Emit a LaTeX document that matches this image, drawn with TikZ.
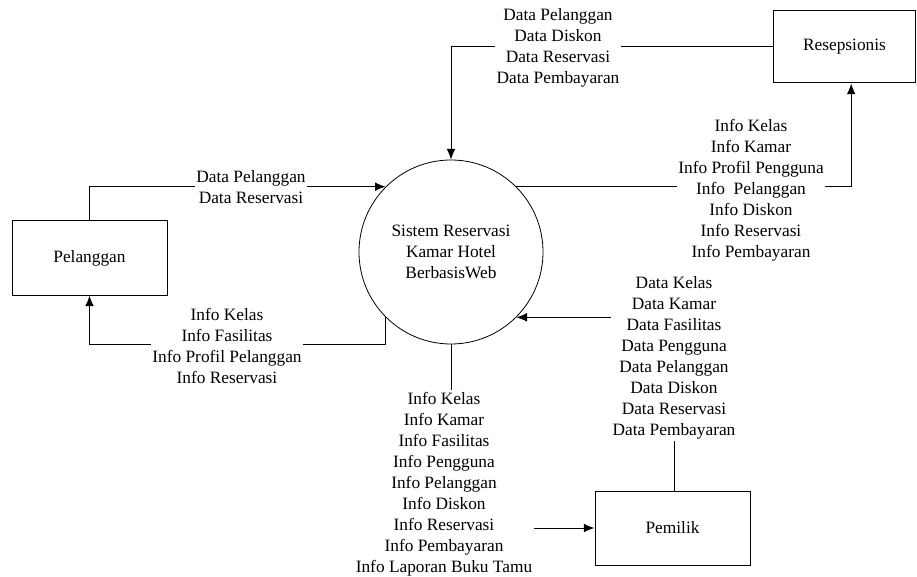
\documentclass[tikz,border=0pt]{standalone}
\usepackage{fontspec}
\setmainfont{Liberation Serif}
\usetikzlibrary{arrows.meta}
\pgfdeclarelayer{bg}
\pgfsetlayers{bg,main}
\begin{document}
\begin{tikzpicture}[x=0.75pt,y=-0.75pt,
  every node/.style={font=\fontsize{13}{15.75}\selectfont},
  entity/.style={draw, line width=0.75pt, minimum width=116.25pt, minimum height=55.5pt, inner sep=0pt},
  process/.style={draw, circle, line width=0.6pt, minimum size=138pt, inner sep=0pt, align=center},
  flowlabel/.style={fill=white, inner sep=1pt, align=center},
  link/.style={line width=0.75pt},
  flow/.style={link, -{Latex[length=8pt,width=6.5pt]}}
]
\useasboundingbox (0,0) rectangle (917,577);

% process and external entities
\node[process] (sys) at (451,252) {Sistem Reservasi\\Kamar Hotel\\BerbasisWeb};
\node[entity] (pel) at (89.5,258) {Pelanggan};
\node[entity, minimum width=107pt, minimum height=54pt] (res) at (844.5,47) {Resepsionis};
\node[entity] (pem) at (672.5,528) {Pemilik};

% data flow labels
\node[flowlabel] (l1) at (251,187) {Data Pelanggan\\Data Reservasi};
\node[flowlabel] (l2) at (227,346) {Info Kelas\\Info Fasilitas\\Info Profil Pelanggan\\Info Reservasi};
\node[flowlabel] (l3) at (558,48) {Data Pelanggan\\Data Diskon\\Data Reservasi\\Data Pembayaran};
\node[flowlabel] (l4) at (751,190) {Info Kelas\\Info Kamar\\Info Profil Pengguna\\Info\ \ Pelanggan\\Info Diskon\\Info Reservasi\\Info Pembayaran};
\node[flowlabel] (l5) at (674,358) {Data Kelas\\Data Kamar\\Data Fasilitas\\Data Pengguna\\Data Pelanggan\\Data Diskon\\Data Reservasi\\Data Pembayaran};
\node[flowlabel] (l6) at (444,484) {Info Kelas\\Info Kamar\\Info Fasilitas\\Info Pengguna\\Info Pelanggan\\Info Diskon\\Info Reservasi\\Info Pembayaran\\Info Laporan Buku Tamu};

% connectors, kept behind the labels
\begin{pgfonlayer}{bg}
\draw[flow] (pel.north) |- (sys.135);
\draw[flow] (sys.225) -- ++(0,27) -| (pel.south);
\draw[flow] (res.west) -| (sys.north);
\draw[flow] (sys.45) -| ([xshift=5pt]res.south);
\draw[flow] (l5.west |- sys.-45) -- (sys.-45);
\draw[link] (l5.south) -- (l5.south |- pem.north);
\draw[link] (sys.south) -- (sys.south |- l6.north);
\draw[flow] (l6.east |- pem.west) -- (pem.west);
\end{pgfonlayer}
\end{tikzpicture}
\end{document}
